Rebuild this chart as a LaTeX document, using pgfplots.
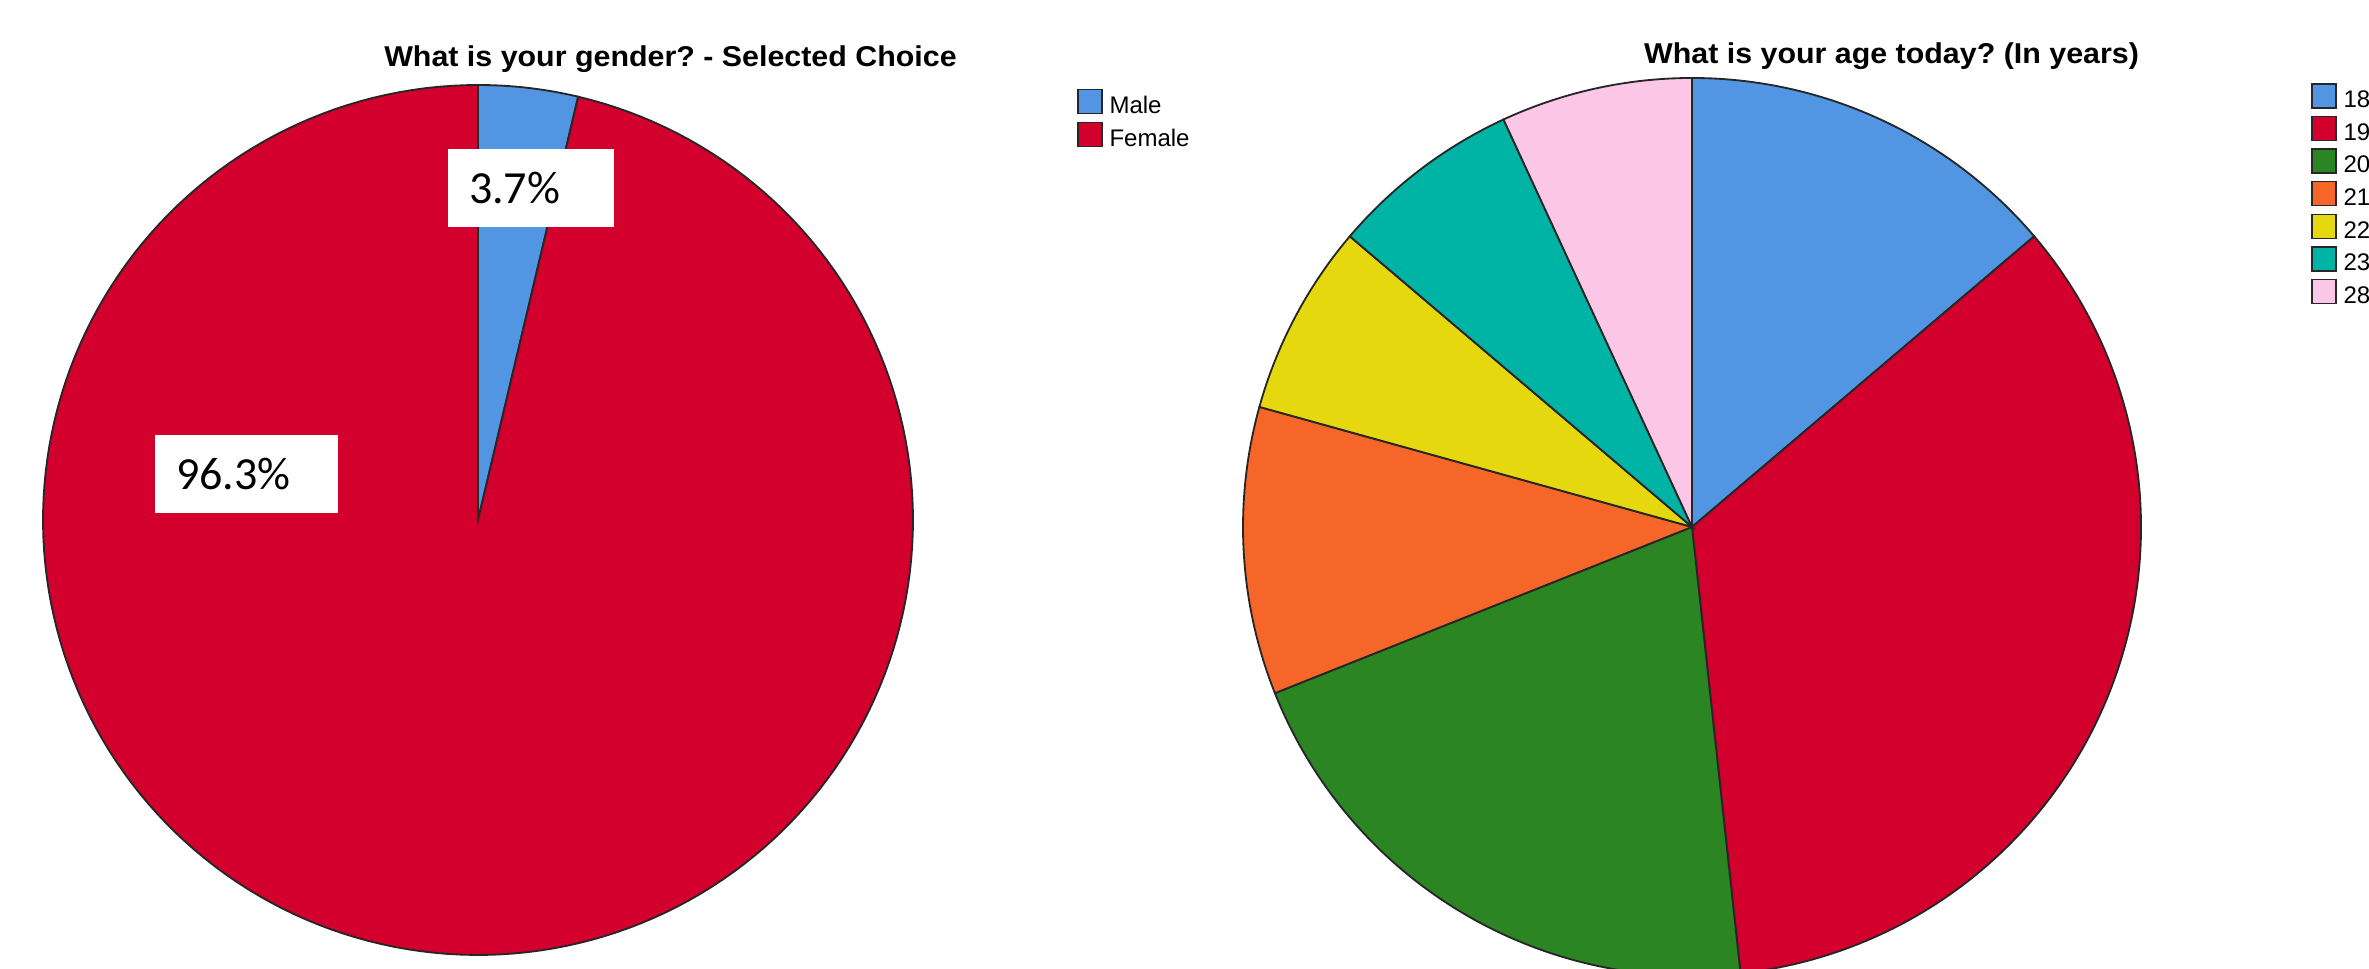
\documentclass[border=0pt]{standalone}
\usepackage{pgfplots}
\pgfplotsset{compat=1.18}
\usepackage{pgfplotstable}
\usepackage{fontspec}
\setmainfont{Liberation Sans}
\newfontfamily\carlito{Carlito}
\frenchspacing

\definecolor{cBlue}{HTML}{5295E2}
\definecolor{cRed}{HTML}{D3002D}
\definecolor{cGreen}{HTML}{2A8522}
\definecolor{cOrange}{HTML}{F66628}
\definecolor{cYellow}{HTML}{E6D80F}
\definecolor{cTeal}{HTML}{00B4A5}
\definecolor{cPink}{HTML}{FCC6E6}

\pgfplotstableread{
label value colour
Male 3.7 cBlue
Female 96.3 cRed
}\gendertab

\pgfplotstableread{
label value colour
18 4 cBlue
19 10 cRed
20 6 cGreen
21 3 cOrange
22 2 cYellow
23 2 cTeal
28 2 cPink
}\agetab

% draws the slices of a pie (clockwise from 12 o'clock) from a table
\newcommand\drawpie[1]{%
  \pgfplotstablegetrowsof{#1}%
  \pgfmathtruncatemacro\pieLast{\pgfplotsretval-1}%
  \xdef\pieTot{0}%
  \pgfplotsforeachungrouped \pieR in {0,...,\pieLast}{%
    \pgfplotstablegetelem{\pieR}{value}\of#1%
    \pgfmathsetmacro\pieTmp{\pieTot+\pgfplotsretval}%
    \xdef\pieTot{\pieTmp}%
  }%
  \xdef\pieCum{0}%
  \pgfplotsforeachungrouped \pieR in {0,...,\pieLast}{%
    \pgfplotstablegetelem{\pieR}{value}\of#1\let\pieV\pgfplotsretval
    \pgfplotstablegetelem{\pieR}{colour}\of#1\let\pieC\pgfplotsretval
    \pgfplotstablegetelem{\pieR}{label}\of#1\let\pieL\pgfplotsretval
    \pgfmathsetmacro\pieA{90-360*((\pieCum+\pieV)/\pieTot)}%
    \pgfmathsetmacro\pieB{90-360*(\pieCum/\pieTot)}%
    \edef\pieDo{%
      \noexpand\addplot[draw=black!85, line width=0.55pt, fill=\pieC,
        domain=\pieA:\pieB, samples=200, variable=\noexpand\t, forget plot]
        ({cos(\noexpand\t)},{sin(\noexpand\t)}) -- (axis cs:0,0) -- cycle;
      \noexpand\addlegendimage{fill=\pieC, draw=black!85, line width=0.45pt}
      \noexpand\addlegendentry{\pieL}
    }%
    \pieDo
    \pgfmathsetmacro\pieTmp{\pieCum+\pieV}%
    \xdef\pieCum{\pieTmp}%
  }%
}

\pgfplotsset{
  pie/.style={
    hide axis, scale only axis, clip=false,
    xmin=-1, xmax=1, ymin=-1, ymax=1,
    anchor=center,
    legend cell align=left,
    legend image code/.code={\draw[##1] (0pt,-1.8pt) rectangle (7.2pt,5.4pt);},
    legend style={
      anchor=north west, draw=none, fill=none,
      inner sep=0pt, outer sep=0pt,
      font=\fontsize{7.2}{7.2}\selectfont,
      row sep=0.9pt,
      nodes={inner sep=0pt},
      /tikz/every odd column/.append style={column sep=2.1pt},
    },
  },
}

\tikzset{lab/.style={fill=white, inner xsep=6.3pt, inner ysep=0pt,
  minimum height=23.4pt, align=left,
  font=\carlito\fontsize{13.8}{13.8}\selectfont}}

\begin{document}
\begin{tikzpicture}
\useasboundingbox (0,0) rectangle (710.7pt,290.7pt);
\clip (0,0) rectangle (710.7pt,290.7pt);

\begin{axis}[pie, width=261pt, height=261pt, at={(143.4pt,134.7pt)},
  legend style={at={(rel axis cs:1.1885,0.9955)}}]
\drawpie{\gendertab}
\node[lab, text width=37.2pt] at (axis cs:0.122,0.763) {3.7\%};
\node[lab, text width=42.3pt] at (axis cs:-0.532,0.106) {96.3\%};
\end{axis}

\begin{axis}[pie, width=269.4pt, height=269.4pt, at={(507.6pt,132.6pt)},
  legend style={at={(rel axis cs:1.1893,0.9944)}}]
\drawpie{\agetab}
\end{axis}

\node[anchor=base, inner sep=0pt, xscale=1.06, font=\bfseries\fontsize{8.6}{8.6}\selectfont]
  at (201.15pt,270.6pt) {What is your gender? - Selected Choice};
\node[anchor=base, inner sep=0pt, xscale=1.06, font=\bfseries\fontsize{8.6}{8.6}\selectfont]
  at (567.45pt,271.6pt) {What is your age today? (In years)};
\end{tikzpicture}
\end{document}
